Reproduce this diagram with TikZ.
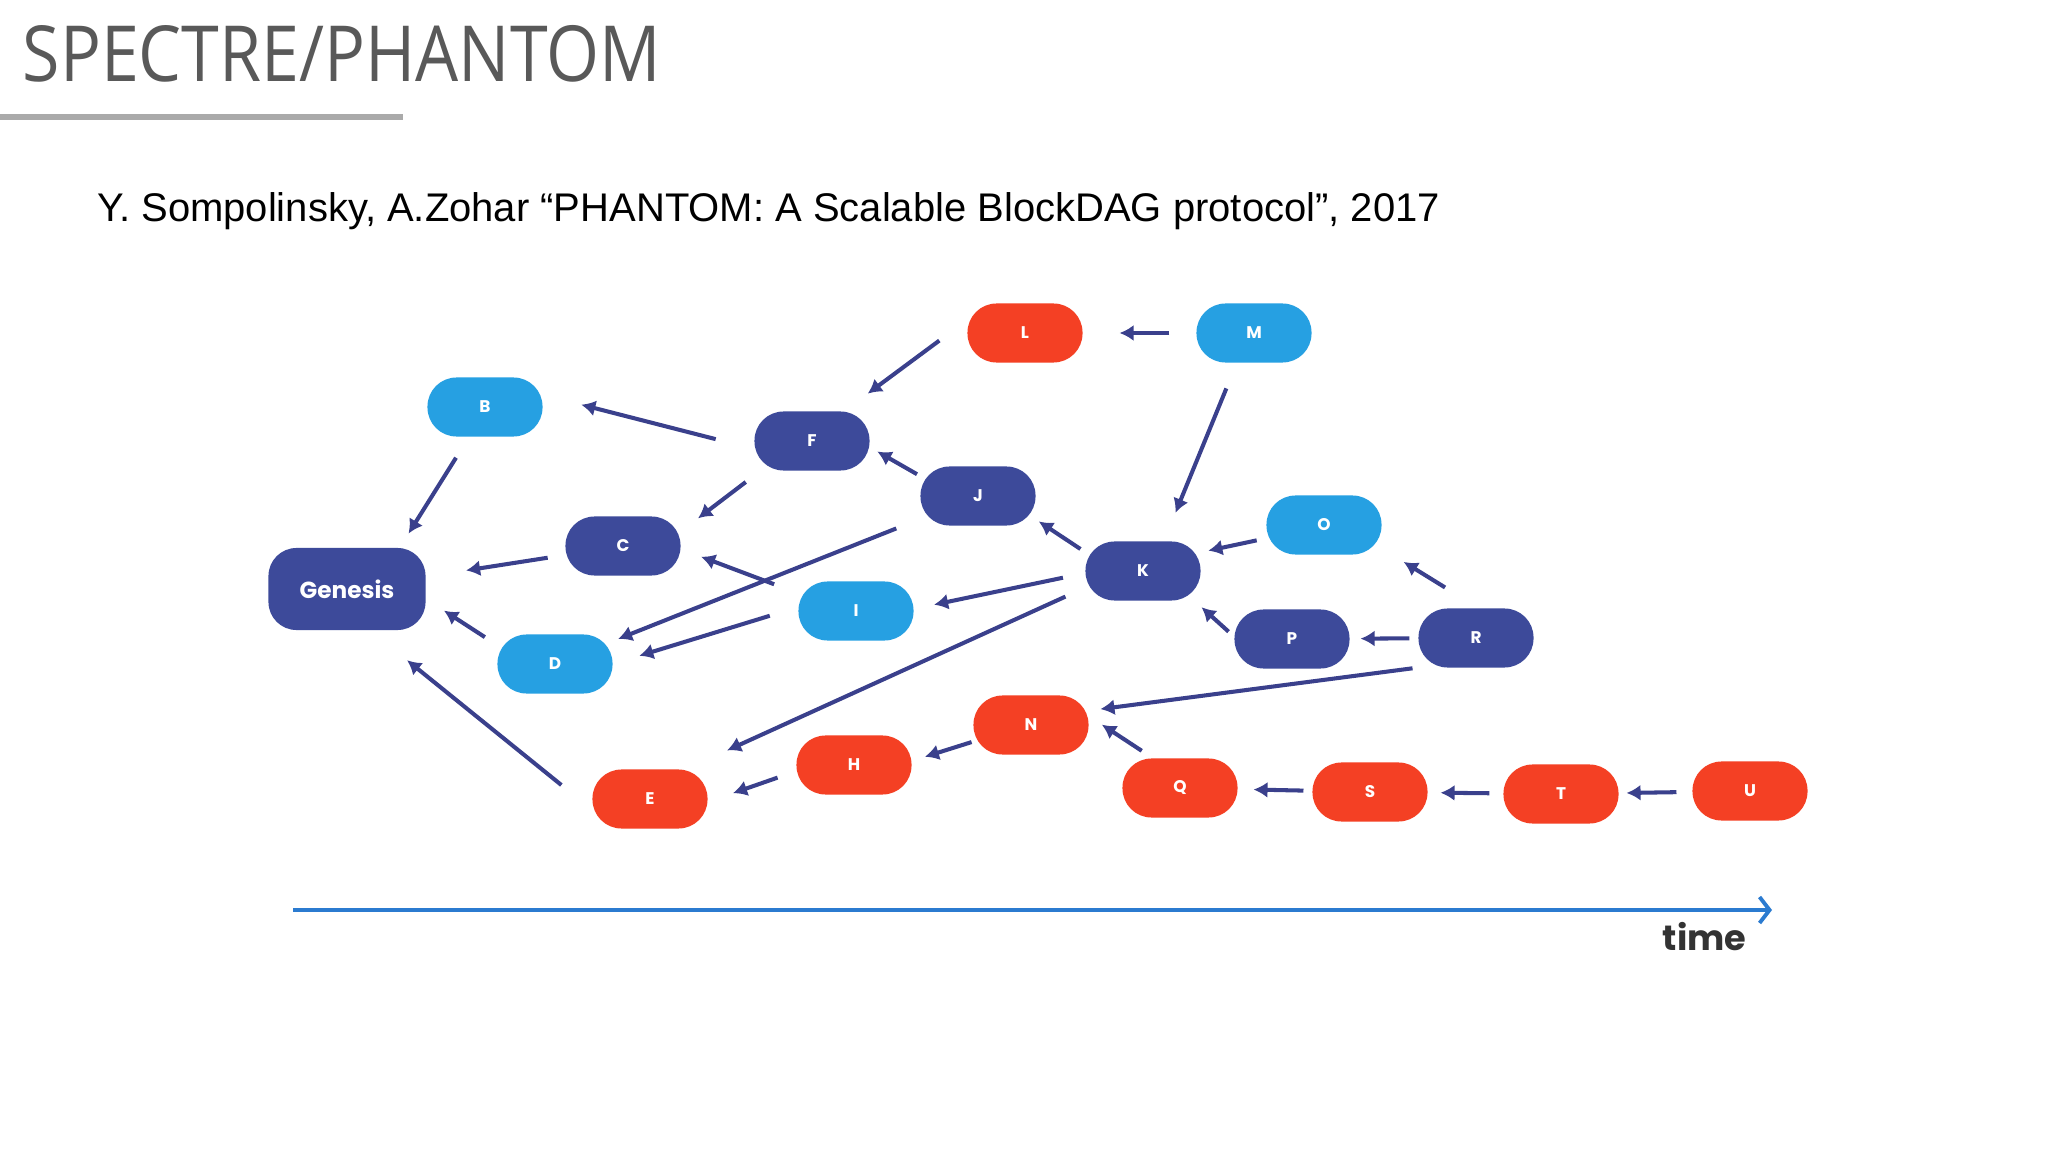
\documentclass[tikz,border=0pt]{standalone}
\usepackage{fontspec}
\usepackage{tikz}
\usetikzlibrary{arrows.meta,positioning,calc}
\setmainfont{Liberation Sans}
\newfontfamily\titlefont[FakeStretch=0.88]{Open Sans}
\newfontfamily\blockfont{Poppins}
\definecolor{titlegray}{RGB}{89,89,89}
\definecolor{rulegray}{RGB}{170,170,170}
\definecolor{blockdark}{RGB}{61,74,154}
\definecolor{blocklight}{RGB}{38,160,226}
\definecolor{blockred}{RGB}{244,64,36}
\definecolor{edgeblue}{RGB}{58,64,140}
\definecolor{timeblue}{RGB}{43,123,208}

\begin{document}
\begin{tikzpicture}[
  x=0.01cm, y=-0.01cm,
  block/.style={rectangle, rounded corners=2.9mm, minimum width=11.5mm, minimum height=5.9mm, inner sep=0pt, outer sep=0pt, text=white, font=\blockfont\bfseries\fontsize{4.8}{5}\selectfont},
  blueblk/.style={block, fill=blockdark},
  cyanblk/.style={block, fill=blocklight},
  redblk/.style={block, fill=blockred},
  edge/.style={-{Latex[length=1.4mm,width=1.6mm]}, line width=1.15pt, draw=edgeblue},
  timeline/.style={-{Straight Barb[length=1mm,width=2.6mm]}, line width=1.1pt, draw=timeblue}
]
\useasboundingbox[fill=white] (0,0) rectangle (2048,1152);

% heading
\node[anchor=base west, inner sep=0pt, text=titlegray, font=\titlefont\fontsize{22}{26}\selectfont] (title) at (22,82) {SPECTRE/PHANTOM};
\draw[rulegray, line width=1.7pt] (0,117) -- (403,117);
\node[anchor=base west, inner sep=0pt, font=\fontsize{11.37}{14}\selectfont] (cite) at (97,222) {Y. Sompolinsky, A.Zohar “PHANTOM: A Scalable BlockDAG protocol”, 2017};

% blocks
\node[blueblk, minimum width=15.7mm, minimum height=8.2mm, rounded corners=2.8mm, font=\blockfont\bfseries\fontsize{6.6}{7}\selectfont] (gen) at (347,589) {Genesis};
\node[cyanblk] (b) at (485,407) {B};
\node[blueblk] (c) at (623,546) {C};
\node[cyanblk] (d) at (555,664) {D};
\node[redblk] (e) at (650,799) {E};
\node[blueblk] (f) at (812,441) {F};
\node[redblk] (h) at (854,765) {H};
\node[cyanblk] (i) at (856,611) {I};
\node[blueblk] (j) at (978,496) {J};
\node[blueblk] (k) at (1143,571) {K};
\node[redblk] (l) at (1025,333) {L};
\node[cyanblk] (m) at (1254,333) {M};
\node[redblk] (n) at (1031,725) {N};
\node[cyanblk] (o) at (1324,525) {O};
\node[blueblk] (p) at (1292,639) {P};
\node[redblk] (q) at (1180,788) {Q};
\node[blueblk] (r) at (1476,638) {R};
\node[redblk] (s) at (1370,792) {S};
\node[redblk] (t) at (1561,794) {T};
\node[redblk] (u) at (1750,791) {U};

% references
\draw[edge, shorten <=2.5mm, shorten >=1.7mm] (b.-118) -- (gen.38);
\draw[edge, shorten <=1.8mm, shorten >=4.1mm] (c) -- (gen);
\draw[edge, shorten <=1.5mm, shorten >=2.2mm] (d.162) -- (gen.-7);
\draw[edge, shorten <=4mm, shorten >=4.8mm] (e.191) -- (gen.-61);
\draw[edge, shorten <=4mm, shorten >=4mm] (f.188) -- (b.12);
\draw[edge, shorten <=1.9mm, shorten >=2.2mm] (f.-150) -- (c.14);
\draw[edge, shorten <=0.4mm, shorten >=0.9mm] (j.161) -- (f.-6);
\draw[edge, shorten <=3.5mm, shorten >=3mm] (l.167) -- (f.43);
\draw[edge, shorten <=2.7mm, shorten >=3.7mm] (m.west) -- (l.east);
\draw[edge, shorten <=2.8mm, shorten >=3.1mm] (m.-120) -- (k.55);
\draw[edge, shorten <=2.6mm, shorten >=0.6mm] (j) -- (d);
\draw[edge, shorten <=2.6mm, shorten >=2.2mm] (i.163) -- (c.-3);
\draw[edge, shorten <=3mm, shorten >=2.8mm] (i.176) -- (d.east);
\draw[edge, shorten <=0.6mm, shorten >=0.4mm] (k.162) -- (j.-22);
\draw[edge, shorten <=2.3mm, shorten >=2.1mm] (k.182) -- (i.2);
\draw[edge, shorten <=2.2mm, shorten >=4.6mm] (k.196) -- (e.40);
\draw[edge, shorten <=1mm, shorten >=0.8mm] (o.193) -- (k.18);
\draw[edge, shorten <=0.8mm, shorten >=1mm] (p.178) -- (k.-30);
\draw[edge, shorten <=4mm, shorten >=2.6mm] (r.84) -- (o.-22);
\draw[edge, shorten <=0.9mm, shorten >=1.1mm] (r) -- (p);
\draw[edge, shorten <=0.6mm, shorten >=1.2mm] (r.south west) -- (n.14);
\draw[edge, shorten <=0.2mm, shorten >=1.4mm] (n.196) -- (h.4);
\draw[edge, shorten <=2mm, shorten >=2.7mm] (h.186) -- (e.-3);
\draw[edge, shorten <=1.4mm, shorten >=1.6mm] (q.132) -- (n.9);
\draw[edge, shorten <=0.9mm, shorten >=1.6mm] (s) -- (q);
\draw[edge, shorten <=1.4mm, shorten >=1.3mm] (t) -- (s);
\draw[edge, shorten <=1.6mm, shorten >=0.8mm] (u) -- (t);

% time axis
\coordinate (tstart) at (293,910);
\coordinate (tend) at (1772,910);
\draw[timeline] (tstart) -- (tend);
\node[anchor=base east, inner sep=0pt, text=black!80, font=\blockfont\bfseries\fontsize{10}{12}\selectfont] (timelbl) at (1747,950) {time};
\end{tikzpicture}
\end{document}
